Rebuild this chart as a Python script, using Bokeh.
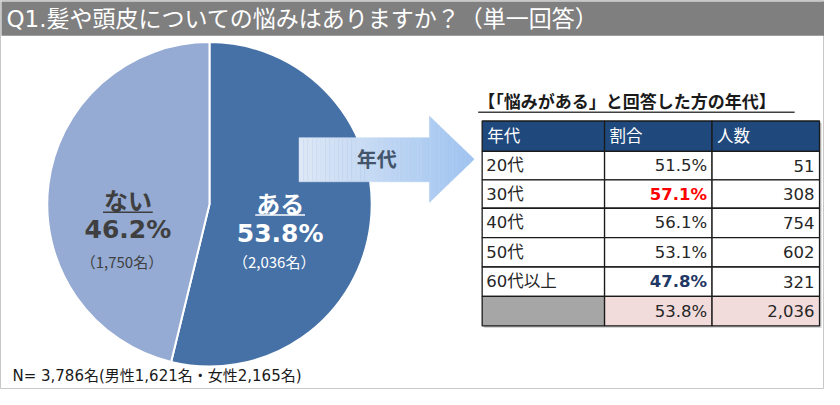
import numpy as np
from bokeh.plotting import figure
from bokeh.models import Range1d
from bokeh.core.properties import value
from bokeh.embed import file_html
from bokeh.resources import INLINE

# ---------------- data ----------------
title_text = "Q1.髪や頭皮についての悩みはありますか？（単一回答）"
pie_labels = ["ある", "ない"]
pie_pct = [53.8, 46.2]
pie_counts = [2036, 1750]
pie_colors = ["#4571A6", "#95ABD3"]

arrow_label = "年代"
table_title = "【「悩みがある」と回答した方の年代】"
table_headers = ["年代", "割合", "人数"]
ages = ["20代", "30代", "40代", "50代", "60代以上"]
age_pct = [51.5, 57.1, 56.1, 53.1, 47.8]
age_counts = [51, 308, 754, 602, 321]
total_pct = 53.8
total_count = 2036
footer_text = "N= 3,786名(男性1,621名・女性2,165名)"

FONT = value("DejaVu Sans, Noto Sans CJK JP")
CJK = value("Noto Sans CJK JP")
H = 405


def Y(y):
    return H - y


p = figure(width=824, height=389, x_range=Range1d(2, 830), y_range=Range1d(Y(399), Y(2)),
           output_backend="svg", toolbar_location=None, min_border=0)
p.axis.visible = False
p.grid.visible = False
p.outline_line_color = "#C8C8C8"
p.background_fill_color = "white"
p.border_fill_color = "white"

# ---------------- title bar ----------------
p.quad(left=[3], right=[837], top=[Y(3)], bottom=[Y(38)], fill_color="#7F7F7F", line_color=None)
p.text(x=[8], y=[Y(21)], text=[title_text], text_font=FONT, text_font_size="23px",
       text_color="white", text_align="left", text_baseline="middle")

# ---------------- pie ----------------
cx, cy, r = 212, Y(210), 163
fr = np.array(pie_pct) / sum(pie_pct)
cum = np.concatenate([[0], np.cumsum(fr)])
start = np.pi / 2 - 2 * np.pi * cum[:-1]
end = np.pi / 2 - 2 * np.pi * cum[1:]
p.wedge(x=cx, y=cy, radius=r, start_angle=start, end_angle=end, direction="clock",
        fill_color=pie_colors, line_color="white", line_width=2)

lab_pos = [(283, 208, 240, 268), (130, 205, 236, 268)]
lab_col = ["white", "#3F3F3F"]
for i in range(2):
    lx, y1, y2, y3 = lab_pos[i]
    p.text(x=[lx], y=[Y(y1)], text=[pie_labels[i]], text_font=CJK, text_font_size="24px",
           text_font_style="bold", text_color=lab_col[i], text_align="center", text_baseline="middle")
    p.segment(x0=[lx - 25], x1=[lx + 25], y0=[Y(y1 + 13)], y1=[Y(y1 + 13)], line_color=lab_col[i], line_width=1.5)
    p.text(x=[lx], y=[Y(y2)], text=[f"{pie_pct[i]:.1f}%"], text_font=FONT, text_font_size="25px",
           text_font_style="bold", text_color=lab_col[i], text_align="center", text_baseline="middle")
    p.text(x=[lx - 6], y=[Y(y3)], text=[f"（{pie_counts[i]:,}名）"], text_font=CJK, text_font_size="15px",
           text_color=lab_col[i], text_align="center", text_baseline="middle")

# ---------------- arrow with gradient ----------------
sx0, sx1, st, sb = 302, 433, 142, 187
ht, hb, tipx, tipy = 120, 208, 478, 164
N = 40
xs_edges = np.linspace(sx0, tipx, N + 1)
c0 = np.array([222, 232, 247])
c1 = np.array([160, 196, 240])


def edges(x):
    if x <= sx1:
        return Y(st), Y(sb)
    t = (x - sx1) / (tipx - sx1)
    return Y(ht + (tipy - ht) * t), Y(hb + (tipy - hb) * t)


pxs, pys, pcols = [], [], []
for k in range(N):
    a, b = xs_edges[k], xs_edges[k + 1]
    pts = [a, sx1, b] if a < sx1 < b else [a, b]
    top, bot, xx = [], [], []
    for x in pts:
        if x == sx1:
            top += [Y(st), Y(ht)]
            bot += [Y(sb), Y(hb)]
            xx += [x, x]
        else:
            t_, b_ = edges(x)
            top.append(t_)
            bot.append(b_)
            xx.append(x)
    pxs.append(xx + xx[::-1])
    pys.append(top + bot[::-1])
    t = k / (N - 1)
    c = (c0 + (c1 - c0) * t).astype(int)
    pcols.append("#%02x%02x%02x" % tuple(c))
p.patches(xs=pxs, ys=pys, fill_color=pcols, line_color=pcols, line_width=0.5)
p.text(x=[380], y=[Y(163)], text=[arrow_label], text_font=CJK, text_font_size="20px",
       text_font_style="bold", text_color="#44546A", text_align="center", text_baseline="middle")

# ---------------- table ----------------
p.text(x=[482], y=[Y(104)], text=[table_title], text_font=CJK, text_font_size="17px",
       text_font_style="bold", text_color="#1A1A1A", text_align="left", text_baseline="middle")
p.segment(x0=[482], x1=[800], y0=[Y(116)], y1=[Y(116)], line_color="#404040", line_width=1.5)

colx = [486, 609, 717, 825]
rowy = [125, 156, 185, 214, 244, 274, 304, 334]

p.quad(left=[colx[0] + 2], right=[colx[-1] + 2], top=[Y(rowy[0] + 2)], bottom=[Y(rowy[-1] + 2)],
       fill_color="#C8C8C8", line_color=None)

L, R, T, B, F = [], [], [], [], []
nrows = len(ages) + 2
for ri in range(nrows):
    for ci in range(3):
        L.append(colx[ci]); R.append(colx[ci + 1])
        T.append(Y(rowy[ri])); B.append(Y(rowy[ri + 1]))
        if ri == 0:
            F.append("#1F497D")
        elif ri == nrows - 1:
            F.append("#A6A6A6" if ci == 0 else "#F2DCDB")
        else:
            F.append("white")
p.quad(left=L, right=R, top=T, bottom=B, fill_color=F, line_color="#1A1A1A", line_width=1.3)

FS = "16.5px"
for ci, h in enumerate(table_headers):
    p.text(x=[colx[ci] + 5], y=[Y((rowy[0] + rowy[1]) / 2)], text=[h], text_font=FONT, text_font_size=FS,
           text_color="white", text_align="left", text_baseline="middle")

imax = int(np.argmax(age_pct))
imin = int(np.argmin(age_pct))
for i, a in enumerate(ages):
    yc = Y((rowy[i + 1] + rowy[i + 2]) / 2)
    p.text(x=[colx[0] + 4], y=[yc], text=[a], text_font=FONT, text_font_size=FS,
           text_color="#262626", text_align="left", text_baseline="middle")
    col, sty = "#262626", "normal"
    if i == imax:
        col, sty = "#FF0000", "bold"
    elif i == imin:
        col, sty = "#1F3864", "bold"
    p.text(x=[colx[2] - 5], y=[yc], text=[f"{age_pct[i]:.1f}%"], text_font=FONT, text_font_size=FS,
           text_font_style=sty, text_color=col, text_align="right", text_baseline="middle")
    p.text(x=[colx[3] - 5], y=[yc], text=[f"{age_counts[i]:,}"], text_font=FONT, text_font_size=FS,
           text_color="#262626", text_align="right", text_baseline="middle")

yc = Y((rowy[-2] + rowy[-1]) / 2)
p.text(x=[colx[2] - 5], y=[yc], text=[f"{total_pct:.1f}%"], text_font=FONT, text_font_size=FS,
       text_color="#262626", text_align="right", text_baseline="middle")
p.text(x=[colx[3] - 5], y=[yc], text=[f"{total_count:,}"], text_font=FONT, text_font_size=FS,
       text_color="#262626", text_align="right", text_baseline="middle")

# ---------------- footer ----------------
p.text(x=[14], y=[Y(385)], text=[footer_text], text_font=FONT, text_font_size="15px",
       text_color="#1A1A1A", text_align="left", text_baseline="middle")

open("out.html", "w").write(file_html(p, INLINE))
